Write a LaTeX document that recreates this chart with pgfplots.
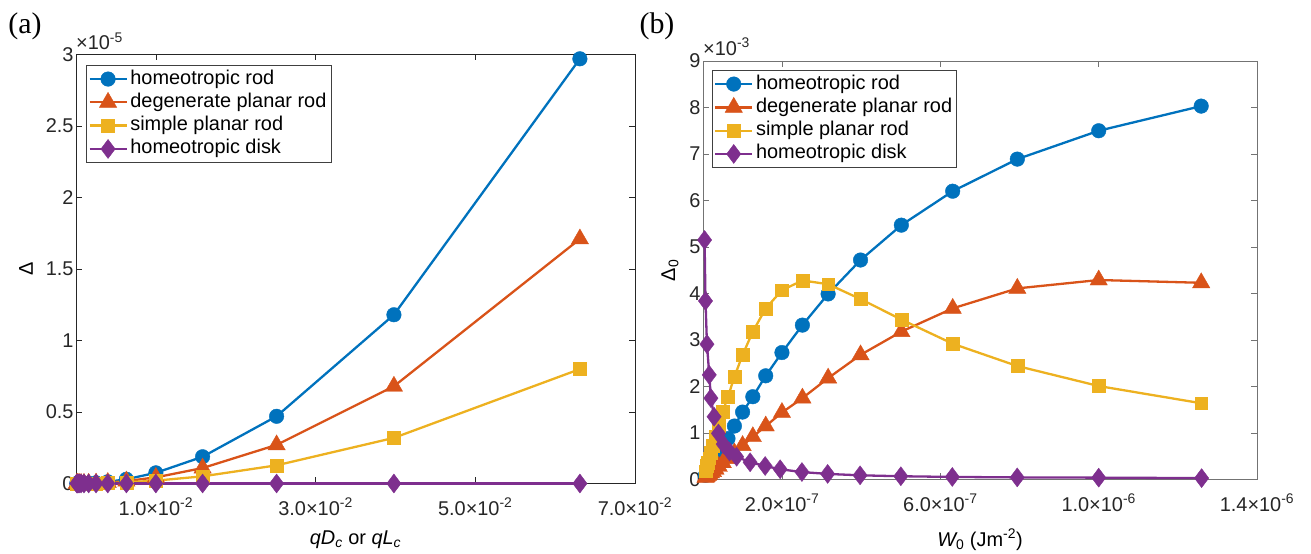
\documentclass[border=0pt]{standalone}
\usepackage{fontspec}
\setmainfont{Liberation Sans}
\newfontfamily\seriffont{Liberation Serif}
\usepackage{pgfplots}
\pgfplotsset{compat=1.18}
\definecolor{mblue}{rgb}{0,0.447,0.741}
\definecolor{morange}{rgb}{0.85,0.325,0.098}
\definecolor{myellow}{rgb}{0.929,0.694,0.125}
\definecolor{mpurple}{rgb}{0.494,0.184,0.556}
\pgfplotsset{
  mat/.style={
    scale only axis, clip=false,
    font=\fontsize{20}{24}\selectfont,
    /pgf/number format/assume math mode=true,
    tick align=inside, major tick length=6bp,
    scaled x ticks=false, scaled y ticks=false,
    every tick/.style={black!85, line width=0.6bp},
    axis line style={black!85, line width=0.8bp},
    tick label style={black!85},
    legend cell align=left,
    legend style={draw=black!75, line width=0.8bp, font=\fontsize{20}{24}\selectfont,
      anchor=north west, at={(0,1)}, xshift=10bp, yshift=-10.5bp,
      nodes={text height=14bp, text depth=4bp, inner sep=2.65bp},
      row sep=0bp, inner xsep=2bp, inner ysep=2bp},
    legend image code/.code={\draw[mark repeat=2,mark phase=2] plot coordinates {(0bp,0bp)(18.5bp,0bp)(37bp,0bp)};},
    every axis plot/.append style={line width=2.3bp},
    xticklabel style={yshift=-11bp},
    yticklabel style={xshift=1bp},
  },
  pblue/.style={color=mblue, mark=*, mark size=7.3bp, mark options={solid, line width=0.4bp, fill=mblue}},
  porange/.style={color=morange, mark=triangle*, mark size=10bp, mark options={solid, line width=0.4bp, fill=morange}},
  pyellow/.style={color=myellow, mark=square*, mark size=6.4bp, mark options={solid, line width=0.4bp, fill=myellow}},
  ppurple/.style={color=mpurple, mark=diamond*, mark size=9.5bp, mark options={solid, line width=0.4bp, fill=mpurple}},
}
\begin{document}
\begin{tikzpicture}
\path (0,0) rectangle (1311bp,553bp);
\node[font=\seriffont\fontsize{30}{30}\selectfont] at (25bp,527bp) {(a)};
\node[font=\seriffont\fontsize{30}{30}\selectfont] at (657bp,527bp) {(b)};
\begin{axis}[mat, at={(76bp,69.5bp)}, anchor=south west, width=559bp, height=429bp,
  xmin=0, xmax=0.07, ymin=0, ymax=3,
  xtick={0.01,0.03,0.05,0.07},
  xticklabels={1.0×10\textsuperscript{-2},3.0×10\textsuperscript{-2},5.0×10\textsuperscript{-2},7.0×10\textsuperscript{-2}},
  ytick={0,0.5,1,1.5,2,2.5,3},
  xlabel={{\itshape qD}\textsubscript{\itshape c} or {\itshape qL}\textsubscript{\itshape c}},
  every axis x label/.style={at={([yshift=-56bp]axis description cs:0.5,0)}, anchor=center},
  ylabel={Δ},
  every axis y label/.style={at={([xshift=-50bp]axis description cs:0,0.5)}, anchor=center, rotate=90},
  legend entries={homeotropic rod, degenerate planar rod, simple planar rod, homeotropic disk},
]
\addplot[pblue] coordinates {(0.0001,0) (0.000158,0) (0.000251,0) (0.000398,0.0001) (0.000631,0.0003) (0.001,0.00075) (0.001585,0.0019) (0.002512,0.0047) (0.003981,0.0118) (0.00631,0.0297) (0.01,0.0746) (0.01585,0.187) (0.02512,0.47) (0.03981,1.18) (0.0631,2.97)};
\addplot[porange] coordinates {(0.0001,0) (0.000158,0) (0.000251,0) (0.000398,0.0001) (0.000631,0.0002) (0.001,0.0004) (0.001585,0.0011) (0.002512,0.0027) (0.003981,0.0068) (0.00631,0.017) (0.01,0.043) (0.01585,0.108) (0.02512,0.27) (0.03981,0.68) (0.0631,1.71)};
\addplot[pyellow] coordinates {(0.0001,0) (0.000158,0) (0.000251,0) (0.000398,0) (0.000631,0.0001) (0.001,0.0002) (0.001585,0.0005) (0.002512,0.0013) (0.003981,0.0032) (0.00631,0.008) (0.01,0.02) (0.01585,0.05) (0.02512,0.127) (0.03981,0.319) (0.0631,0.80)};
\addplot[ppurple] coordinates {(0.0001,0) (0.000158,0) (0.000251,0) (0.000398,0) (0.000631,0) (0.001,0) (0.001585,0) (0.002512,0) (0.003981,0) (0.00631,0) (0.01,0) (0.01585,0) (0.02512,0) (0.03981,0) (0.0631,0)};
\node[anchor=base west, inner sep=0pt, black!85] at ([yshift=4.5bp]rel axis cs:0,1) {×10\textsuperscript{-5}};
\end{axis}
\begin{axis}[mat, at={(703bp,73.5bp)}, anchor=south west, width=554bp, height=418.5bp,
  axis line style={black!55, line width=0.8bp},
  every tick/.style={black!55, line width=0.6bp},
  xmin=0, xmax=1.4e-6, ymin=0, ymax=9,
  xtick={2e-7,6e-7,1e-6,1.4e-6},
  xticklabels={2.0×10\textsuperscript{-7},6.0×10\textsuperscript{-7},1.0×10\textsuperscript{-6},1.4×10\textsuperscript{-6}},
  ytick={0,1,2,3,4,5,6,7,8,9},
  legend style={xshift=-1.3bp, yshift=1.5bp},
  xlabel={{\itshape W}\textsubscript{0} (Jm\textsuperscript{-2})},
  every axis x label/.style={at={([yshift=-60bp]axis description cs:0.5,0)}, anchor=center},
  ylabel={Δ\textsubscript{0}},
  every axis y label/.style={at={([xshift=-33bp]axis description cs:0,0.5)}, anchor=center, rotate=90},
  legend entries={homeotropic rod, degenerate planar rod, simple planar rod, homeotropic disk},
]
\addplot[pblue] coordinates {(0.063e-7,0.09) (0.079e-7,0.115) (0.1e-7,0.14) (0.126e-7,0.18) (0.158e-7,0.23) (0.2e-7,0.29) (0.251e-7,0.36) (0.316e-7,0.45) (0.398e-7,0.56) (0.5e-7,0.70) (0.631e-7,0.88) (0.794e-7,1.15) (1.0e-7,1.45) (1.259e-7,1.78) (1.585e-7,2.23) (1.995e-7,2.73) (2.512e-7,3.32) (3.162e-7,3.99) (3.981e-7,4.72) (5.012e-7,5.47) (6.31e-7,6.20) (7.943e-7,6.89) (10e-7,7.50) (12.59e-7,8.03)};
\addplot[porange] coordinates {(0.063e-7,0.045) (0.079e-7,0.055) (0.1e-7,0.07) (0.126e-7,0.09) (0.158e-7,0.11) (0.2e-7,0.14) (0.251e-7,0.17) (0.316e-7,0.22) (0.398e-7,0.28) (0.5e-7,0.36) (0.631e-7,0.45) (0.794e-7,0.57) (1.0e-7,0.73) (1.259e-7,0.92) (1.585e-7,1.15) (1.995e-7,1.44) (2.512e-7,1.75) (3.162e-7,2.18) (3.981e-7,2.68) (5.012e-7,3.18) (6.31e-7,3.68) (7.943e-7,4.11) (10e-7,4.29) (12.59e-7,4.23)};
\addplot[pyellow] coordinates {(0.063e-7,0.18) (0.079e-7,0.23) (0.1e-7,0.29) (0.126e-7,0.36) (0.158e-7,0.46) (0.2e-7,0.58) (0.251e-7,0.73) (0.316e-7,0.92) (0.398e-7,1.15) (0.5e-7,1.46) (0.631e-7,1.78) (0.794e-7,2.21) (1.0e-7,2.68) (1.259e-7,3.18) (1.585e-7,3.68) (1.995e-7,4.07) (2.512e-7,4.28) (3.162e-7,4.20) (3.981e-7,3.88) (5.012e-7,3.44) (6.31e-7,2.92) (7.943e-7,2.44) (10e-7,2.01) (12.59e-7,1.64)};
\addplot[ppurple] coordinates {(0.04e-7,5.15) (0.063e-7,3.84) (0.1e-7,2.91) (0.158e-7,2.25) (0.2e-7,1.75) (0.28e-7,1.35) (0.39e-7,0.99) (0.51e-7,0.76) (0.67e-7,0.60) (0.85e-7,0.49) (1.19e-7,0.37) (1.57e-7,0.29) (1.95e-7,0.22) (2.5e-7,0.16) (3.15e-7,0.12) (3.97e-7,0.09) (5.0e-7,0.07) (6.3e-7,0.055) (7.94e-7,0.045) (10e-7,0.04) (12.6e-7,0.03)};
\node[anchor=base west, inner sep=0pt, black!85] at ([yshift=6bp]rel axis cs:0,1) {×10\textsuperscript{-3}};
\end{axis}
\end{tikzpicture}
\end{document}
